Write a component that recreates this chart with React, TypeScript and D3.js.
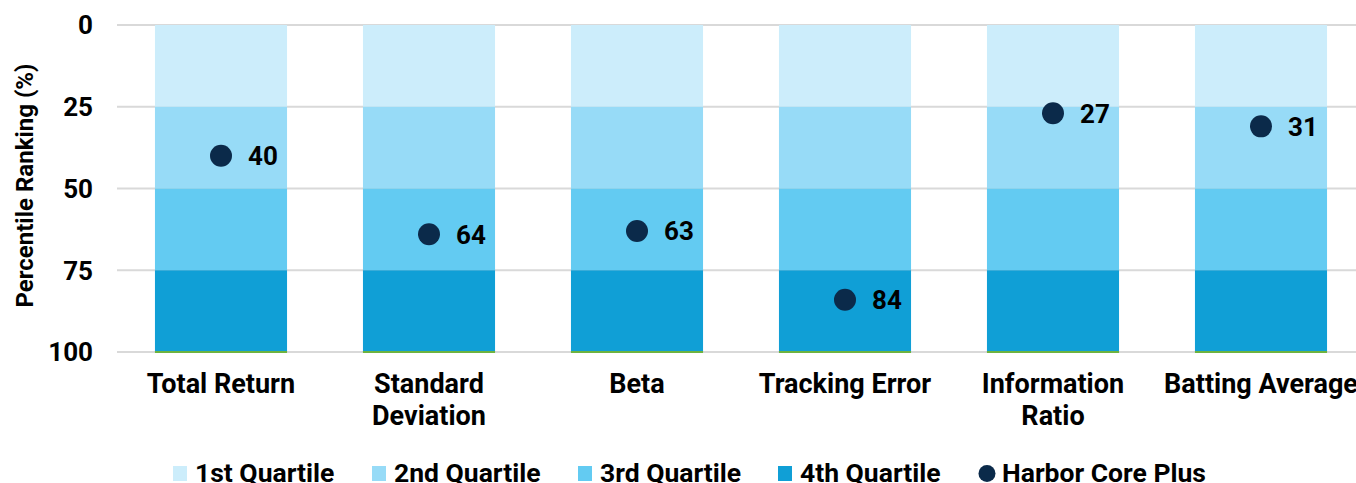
import React from 'react';
import * as d3 from 'd3';

const categories = ['Total Return', 'Standard Deviation', 'Beta', 'Tracking Error', 'Information Ratio', 'Batting Average'];
const categoryLines = [['Total Return'], ['Standard', 'Deviation'], ['Beta'], ['Tracking Error'], ['Information', 'Ratio'], ['Batting Average']];
const quartiles = ['1st Quartile', '2nd Quartile', '3rd Quartile', '4th Quartile'];
const quartileBounds = [[0, 25], [25, 50], [50, 75], [75, 100]];
const fundName = 'Harbor Core Plus';
const fundValues = [40, 64, 63, 84, 27, 31];
const yTicks = [0, 25, 50, 75, 100];

const quartileColors = ['#CCEDFB', '#97DBF7', '#63CBF2', '#109FD6'];
const dotColor = '#0B2A4A';

const App = () => {
  // chart boundaries
  const width = 1356;
  const height = 483;
  const margin = { top: 25, left: 117, bottom: 131 };
  const plotWidth = 1248;
  const plotHeight = height - margin.top - margin.bottom;

  const xScale = d3.scaleBand<string>()
    .domain(categories)
    .range([0, plotWidth])
    .paddingInner(0.365)
    .paddingOuter(0.1825);

  const yScale = d3.scaleLinear()
    .domain([0, 100])
    .range([0, plotHeight]);

  const font = 'Roboto, "Noto Sans", sans-serif';
  const legendX = [173, 372, 578, 778, 987];

  return (
    <svg width={width} height={height} style={{ position: 'absolute', left: 0, top: 0, fontFamily: font }}>
      <g transform={`translate(${margin.left}, ${margin.top})`}>
        {yTicks.map(t => (
          <g key={t}>
            <line x1={0} x2={plotWidth} y1={yScale(t)} y2={yScale(t)} stroke='#D9D9D9' strokeWidth={2} />
            <text x={-24} y={yScale(t)} dy='0.36em' textAnchor='end' fontSize={26} fontWeight={700} fill='#000'>{t}</text>
          </g>
        ))}
        {categories.map((c, i) => (
          <g key={c} transform={`translate(${xScale(c)}, 0)`}>
            {quartileBounds.map((q, j) => (
              <rect key={j} x={0} y={yScale(q[0])} width={xScale.bandwidth()} height={yScale(q[1]) - yScale(q[0])} fill={quartileColors[j]} />
            ))}
            <line x1={0} x2={xScale.bandwidth()} y1={yScale(100)} y2={yScale(100)} stroke='#6DB33F' strokeWidth={2} />
          </g>
        ))}
        {categories.map((c, i) => {
          const cx = (xScale(c) ?? 0) + xScale.bandwidth() / 2;
          const cy = yScale(fundValues[i]);
          return (
            <g key={c + 'dot'}>
              <circle cx={cx} cy={cy} r={11} fill={dotColor} />
              <text x={cx + 27} y={cy} dy='0.36em' fontSize={26} fontWeight={700} fill='#000'>{fundValues[i]}</text>
            </g>
          );
        })}
        {categories.map((c, i) => {
          const cx = (xScale(c) ?? 0) + xScale.bandwidth() / 2;
          return (
            <text key={c + 'lbl'} x={cx} y={yScale(100) + 41} textAnchor='middle' fontSize={27} fontWeight={700} fill='#000'>
              {categoryLines[i].map((l, k) => (
                <tspan key={k} x={cx} dy={k === 0 ? 0 : 32}>{l}</tspan>
              ))}
            </text>
          );
        })}
      </g>
      <text transform={`translate(33, ${margin.top + plotHeight / 2 - 3}) rotate(-90)`} textAnchor='middle' fontSize={24} fontWeight={700} fill='#000'>Percentile Ranking (%)</text>
      <g>
        {quartiles.map((q, j) => (
          <g key={q} transform={`translate(${legendX[j]}, 482)`}>
            <rect x={0} y={-16} width={14} height={15} fill={quartileColors[j]} />
            <text x={22} y={0} fontSize={26.5} fontWeight={700} fill='#000'>{q}</text>
          </g>
        ))}
        <g transform={`translate(${legendX[4]}, 482)`}>
          <circle cx={0} cy={-8.5} r={8.5} fill={dotColor} />
          <text x={15} y={0} fontSize={26.5} fontWeight={700} fill='#000'>{fundName}</text>
        </g>
      </g>
    </svg>
  );
};

export default App;
